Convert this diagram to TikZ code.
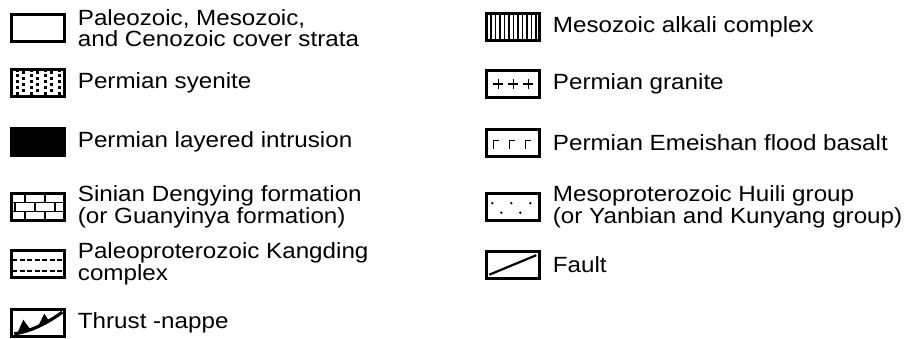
\documentclass[tikz,border=0pt]{standalone}
\usepackage{fontspec}
\setmainfont{Liberation Sans}[FakeStretch=1.1]
\begin{document}
\begin{tikzpicture}[x=1pt,y=-1pt,
  sw/.style={draw, line width=2.6pt, minimum width=53.4pt, minimum height=27.4pt, inner sep=0pt, outer sep=0pt, anchor=north west},
  lbl/.style={anchor=west, align=left, inner sep=0pt, font=\fontsize{22}{21.5}\selectfont},
  pat/.style={line width=1.7pt},
  loc/.style={shift={(#1.south west)}, x=1pt, y=1pt}
]
\useasboundingbox (0,0) rectangle (920,338);

% ---------- left column ----------
\node[sw] (s1) at (11.3,14.3) {};
\node[lbl] (t1) at ([xshift=13pt]s1.east) {Paleozoic, Mesozoic,\\and Cenozoic cover strata};

\node[sw] (s2) at (11.3,69.3) {};
\begin{scope}[loc=s2]
  \foreach \x/\ph in {6/0,12/3,20/0,26/3,34/0,40/3,48/0}
    \draw[line width=2.4pt, dash pattern=on 3pt off 3pt, dash phase=\ph pt] (\x,1.5) -- (\x,26);
\end{scope}
\node[lbl] (t2) at ([xshift=13pt]s2.east) {Permian syenite};

\node[sw, fill=black] (s3) at (11.3,128.3) {};
\node[lbl] (t3) at ([xshift=13pt]s3.east) {Permian layered intrusion};

\node[sw] (s4) at (11.3,193.3) {};
\begin{scope}[loc=s4, pat]
  \draw (0,9.1) -- (53.4,9.1) (0,18.3) -- (53.4,18.3);
  \draw (14,18.3) -- (14,27.4) (34,18.3) -- (34,27.4);
  \draw (4,9.1) -- (4,18.3) (24,9.1) -- (24,18.3) (44,9.1) -- (44,18.3);
  \draw (14,0) -- (14,9.1) (34,0) -- (34,9.1);
\end{scope}
\node[lbl] (t4) at ([xshift=13pt]s4.east) {Sinian Dengying formation\\(or Guanyinya formation)};

\node[sw] (s5) at (11.3,250.3) {};
\begin{scope}[loc=s5, pat]
  \draw[dash pattern=on 5pt off 2.5pt] (1,17.5) -- (53,17.5) (1,7) -- (53,7);
\end{scope}
\node[lbl] (t5) at ([xshift=13pt]s5.east) {Paleoproterozoic Kangding\\complex};

\node[sw] (s6) at (11.3,309.3) {};
\begin{scope}[loc=s6]
  \draw[line width=3.2pt] (3,3) .. controls (20,5) and (38,15) .. (51,24.5);
  \fill (6,3.5) -- (12,17) -- (20,6) -- cycle;
  \fill (26,9) -- (33,23) -- (38,15.5) -- cycle;
\end{scope}
\node[lbl] (t6) at ([xshift=13pt]s6.east) {Thrust -nappe};

% ---------- right column ----------
\node[sw] (r1) at (486.3,13.3) {};
\begin{scope}[loc=r1, line width=1.6pt]
  \foreach \x in {4.5,9,...,50} \draw (\x,0) -- (\x,27.4);
\end{scope}
\node[lbl] (u1) at ([xshift=13pt]r1.east) {Mesozoic alkali complex};

\node[sw] (r2) at (486.3,70.3) {};
\begin{scope}[loc=r2, line width=1.3pt]
  \foreach \x in {12,27,42} \draw (\x-5,13.7) -- (\x+5,13.7) (\x,8.7) -- (\x,18.7);
\end{scope}
\node[lbl] (u2) at ([xshift=13pt]r2.east) {Permian granite};

\node[sw] (r3) at (486.3,129.3) {};
\begin{scope}[loc=r3, line width=1.3pt]
  \foreach \x in {7,23,39} \draw (\x,7.5) -- (\x,16.5) -- (\x+6,16.5);
\end{scope}
\node[lbl] (u3) at ([xshift=13pt]r3.east) {Permian Emeishan flood basalt};

\node[sw] (r4) at (486.3,193.3) {};
\begin{scope}[loc=r4]
  \foreach \x/\y in {6/17.5,25/17.5,44/17.5,15/8,34/8} \fill (\x,\y) circle (1.3pt);
\end{scope}
\node[lbl] (u4) at ([xshift=13pt]r4.east) {Mesoproterozoic Huili group\\(or Yanbian and Kunyang group)};

\node[sw] (r5) at (486.3,251.3) {};
\begin{scope}[loc=r5]
  \draw[line width=2.2pt] (3,4) -- (50,23.5);
\end{scope}
\node[lbl] (u5) at ([xshift=13pt]r5.east) {Fault};
\end{tikzpicture}
\end{document}
